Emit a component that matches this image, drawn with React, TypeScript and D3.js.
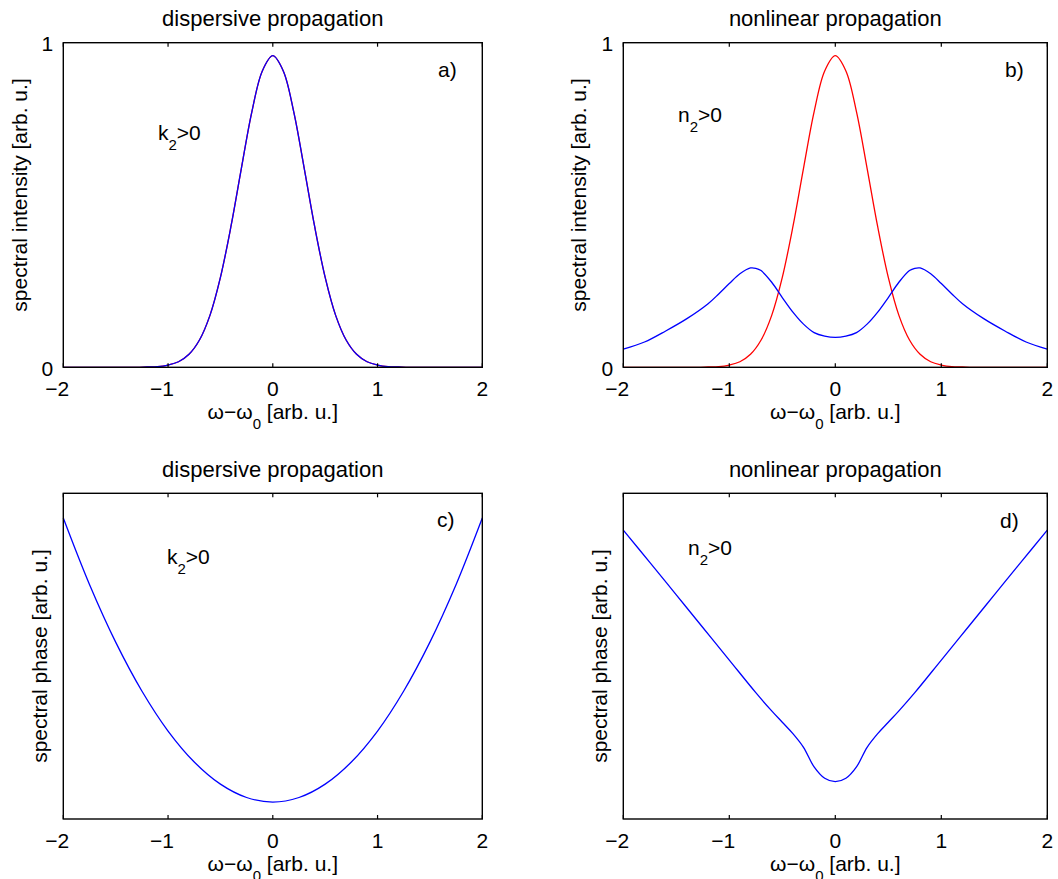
import React from "react";
import * as d3 from "d3";

// ---- data -------------------------------------------------------------
// frequency grid for the input (Gaussian) spectrum
const specX = [
  -2, -1.5, -1.3, -1.2, -1.1, -1.0, -0.9, -0.8, -0.7, -0.6, -0.5, -0.4, -0.3, -0.2, -0.1,
  0, 0.1, 0.2, 0.3, 0.4, 0.5, 0.6, 0.7, 0.8, 0.9, 1.0, 1.1, 1.2, 1.3, 1.5, 2,
];
// input spectrum (red), also the spectrum after dispersive propagation (blue, panel a)
const inputSpectrum = [
  0, 0, 0, 0.001, 0.002, 0.007, 0.017, 0.04, 0.084, 0.16, 0.277, 0.433, 0.613, 0.787, 0.913,
  0.96, 0.913, 0.787, 0.613, 0.433, 0.277, 0.16, 0.084, 0.04, 0.017, 0.007, 0.002, 0.001, 0, 0, 0,
];

// spectrum after nonlinear propagation (blue, panel b)
const nlX = [
  -2, -1.8, -1.6, -1.4, -1.2, -1.1, -1.0, -0.9, -0.8, -0.75, -0.7, -0.6, -0.5, -0.4, -0.3, -0.2,
  -0.1, 0, 0.1, 0.2, 0.3, 0.4, 0.5, 0.6, 0.7, 0.75, 0.8, 0.9, 1.0, 1.1, 1.2, 1.4, 1.6, 1.8, 2,
];
const nlSpectrum = [
  0.056, 0.078, 0.112, 0.15, 0.196, 0.226, 0.258, 0.288, 0.306, 0.305, 0.298, 0.262, 0.215, 0.17,
  0.133, 0.107, 0.096, 0.092, 0.096, 0.107, 0.133, 0.17, 0.215, 0.262, 0.298, 0.305, 0.306, 0.288,
  0.258, 0.226, 0.196, 0.15, 0.112, 0.078, 0.056,
];

// spectral phase, normalised to the plot height
const phaseX = [-2, -1.75, -1.5, -1.25, -1.0, -0.75, -0.5, -0.25, 0, 0.25, 0.5, 0.75, 1.0, 1.25, 1.5, 1.75, 2];
const dispersivePhase = [
  0.924, 0.72, 0.543, 0.393, 0.27, 0.175, 0.107, 0.066, 0.052, 0.066, 0.107, 0.175, 0.27, 0.393,
  0.543, 0.72, 0.924,
];

const nlPhaseX = [
  -2, -1.75, -1.5, -1.25, -1.0, -0.75, -0.6, -0.5, -0.4, -0.3, -0.2, -0.1, 0, 0.1, 0.2,
  0.3, 0.4, 0.5, 0.6, 0.75, 1.0, 1.25, 1.5, 1.75, 2,
];
const nonlinearPhase = [
  0.887, 0.788, 0.688, 0.588, 0.488, 0.388, 0.332, 0.297, 0.262, 0.22, 0.16, 0.125, 0.1145,
  0.125, 0.16, 0.22, 0.262, 0.297, 0.332, 0.388, 0.488, 0.588, 0.688, 0.788, 0.887,
];

const xTicks = [-2, -1, 0, 1, 2];
const yTicksIntensity = [0, 1];

// ---- layout -----------------------------------------------------------
const W = 1058;
const H = 879;
const FONT = "'Liberation Sans', Arial, Helvetica, sans-serif";
const FS = 21;

type Series = { x: number[]; y: number[]; color: string };
type Panel = {
  left: number;
  right: number;
  top: number;
  bottom: number;
  title: string;
  ylabel: string;
  ylabelX: number;
  ylabelY: number;
  yTicks: number[];
  tag: string;
  tagX: number;
  tagY: number;
  note: string;
  noteX: number;
  noteY: number;
  series: Series[];
};

const panels: Panel[] = [
  {
    left: 63.3, right: 482.3, top: 42.7, bottom: 367.3,
    title: "dispersive propagation",
    ylabel: "spectral intensity [arb. u.]", ylabelX: 27, ylabelY: 195,
    yTicks: yTicksIntensity,
    tag: "a)", tagX: 438, tagY: 77,
    note: "k", noteX: 158, noteY: 140,
    series: [
      { x: specX, y: inputSpectrum, color: "#ff0000" },
      { x: specX, y: inputSpectrum, color: "#0000ff" },
    ],
  },
  {
    left: 623.3, right: 1047.3, top: 42.7, bottom: 367.3,
    title: "nonlinear propagation",
    ylabel: "spectral intensity [arb. u.]", ylabelX: 586, ylabelY: 195,
    yTicks: yTicksIntensity,
    tag: "b)", tagX: 1005, tagY: 77,
    note: "n", noteX: 678, noteY: 122,
    series: [
      { x: specX, y: inputSpectrum, color: "#ff0000" },
      { x: nlX, y: nlSpectrum, color: "#0000ff" },
    ],
  },
  {
    left: 63.3, right: 482.3, top: 493.3, bottom: 819,
    title: "dispersive propagation",
    ylabel: "spectral phase [arb. u.]", ylabelX: 47, ylabelY: 656,
    yTicks: [],
    tag: "c)", tagX: 437, tagY: 527,
    note: "k", noteX: 167, noteY: 564,
    series: [{ x: phaseX, y: dispersivePhase, color: "#0000ff" }],
  },
  {
    left: 623.3, right: 1047.3, top: 493.3, bottom: 819,
    title: "nonlinear propagation",
    ylabel: "spectral phase [arb. u.]", ylabelX: 607, ylabelY: 656,
    yTicks: [],
    tag: "d)", tagX: 1000, tagY: 528,
    note: "n", noteX: 688, noteY: 555,
    series: [{ x: nlPhaseX, y: nonlinearPhase, color: "#0000ff" }],
  },
];

function PanelView({ p }: { p: Panel }) {
  const x = d3.scaleLinear().domain([-2, 2]).range([p.left, p.right]);
  const y = d3.scaleLinear().domain([0, 1]).range([p.bottom, p.top]);
  const line = d3
    .line<[number, number]>()
    .x((d) => x(d[0]))
    .y((d) => y(d[1]))
    .curve(d3.curveCatmullRom.alpha(0.5));
  const cx = (p.left + p.right) / 2;
  const digitHalf = FS * 0.278;
  const tickLen = 4;

  return (
    <g>
      {p.series.map((s, i) => (
        <path
          key={i}
          d={line(s.x.map((v, k) => [v, s.y[k]] as [number, number])) || ""}
          fill="none"
          stroke={s.color}
          strokeWidth={1.3}
        />
      ))}

      {/* box */}
      <rect
        x={p.left}
        y={p.top}
        width={p.right - p.left}
        height={p.bottom - p.top}
        fill="none"
        stroke="#000"
        strokeWidth={1.4}
      />

      {/* x ticks on bottom and top edges */}
      {xTicks.map((t) => (
        <g key={t}>
          <line x1={x(t)} x2={x(t)} y1={p.bottom} y2={p.bottom - tickLen} stroke="#000" strokeWidth={1.2} />
          <line x1={x(t)} x2={x(t)} y1={p.top} y2={p.top + tickLen} stroke="#000" strokeWidth={1.2} />
          <text x={x(t)} y={p.bottom + 29} textAnchor="middle" fontSize={FS} fontFamily={FONT}>
            {Math.abs(t)}
          </text>
          {t < 0 && (
            <text x={x(t) - digitHalf} y={p.bottom + 29} textAnchor="end" fontSize={FS} fontFamily={FONT}>
              −
            </text>
          )}
        </g>
      ))}

      {/* y ticks */}
      {p.yTicks.map((t) => (
        <text key={t} x={p.left - 10} y={y(t) + 8.3} textAnchor="end" fontSize={FS} fontFamily={FONT}>
          {t}
        </text>
      ))}

      {/* x label */}
      <text x={cx} y={p.bottom + 52} textAnchor="middle" fontSize={FS} fontFamily={FONT}>
        ω−ω
        <tspan fontSize={15} dy={10}>0</tspan>
        <tspan dy={-10}> [arb. u.]</tspan>
      </text>

      {/* y label */}
      <text
        transform={`translate(${p.ylabelX},${p.ylabelY}) rotate(-90)`}
        textAnchor="middle"
        fontSize={FS}
        fontFamily={FONT}
      >
        {p.ylabel}
      </text>

      {/* title */}
      <text x={cx} y={p.top - 16.5} textAnchor="middle" fontSize={22} fontFamily={FONT}>
        {p.title}
      </text>

      {/* panel tag */}
      <text x={p.tagX} y={p.tagY} fontSize={FS} fontFamily={FONT}>
        {p.tag}
      </text>

      {/* sign condition */}
      <text x={p.noteX} y={p.noteY} fontSize={FS} fontFamily={FONT}>
        {p.note}
        <tspan fontSize={15} dy={10}>2</tspan>
        <tspan dy={-10}>&gt;0</tspan>
      </text>
    </g>
  );
}

export default function App() {
  return (
    <svg
      width={W}
      height={H}
      viewBox={`0 0 ${W} ${H}`}
      style={{ position: "absolute", left: 0, top: 0, background: "#fff" }}
    >
      <rect width={W} height={H} fill="#fff" />
      {panels.map((p, i) => (
        <PanelView key={i} p={p} />
      ))}
    </svg>
  );
}
